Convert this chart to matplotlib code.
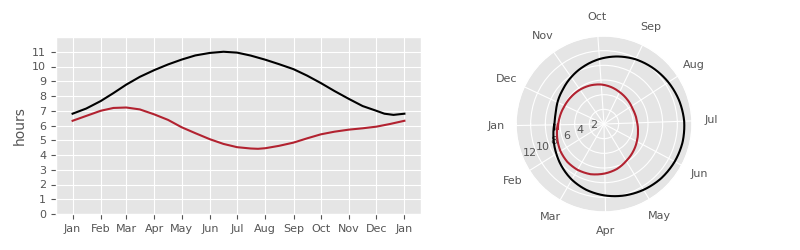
import matplotlib
matplotlib.use("Agg")
import matplotlib.dates as mdates
import matplotlib.pyplot as plt
import numpy as np
import pandas as pd

plt.style.use("ggplot")
plt.rcParams["font.size"] = 8

# sample dates, roughly twice a month
black_dates = pd.to_datetime([
    "2019-01-01", "2019-01-16", "2019-02-01", "2019-02-15", "2019-03-01", "2019-03-16",
    "2019-04-01", "2019-04-16", "2019-05-01", "2019-05-16", "2019-06-01", "2019-06-16",
    "2019-07-01", "2019-07-16", "2019-08-01", "2019-08-16", "2019-09-01", "2019-09-16",
    "2019-10-01", "2019-10-16", "2019-11-01", "2019-11-16", "2019-12-01", "2019-12-10",
    "2019-12-20", "2020-01-01",
])
black_hours = [6.80, 7.15, 7.66, 8.20, 8.77, 9.30,
               9.76, 10.14, 10.47, 10.75, 10.92, 11.00,
               10.94, 10.74, 10.46, 10.16, 9.82, 9.38,
               8.88, 8.34, 7.80, 7.32, 7.00, 6.80,
               6.72, 6.80]

red_dates = pd.to_datetime([
    "2019-01-01", "2019-01-16", "2019-02-01", "2019-02-15", "2019-03-01", "2019-03-16",
    "2019-04-01", "2019-04-16", "2019-05-01", "2019-05-16", "2019-06-01", "2019-06-16",
    "2019-07-01", "2019-07-16", "2019-07-24", "2019-08-01", "2019-08-16", "2019-09-01",
    "2019-09-16", "2019-10-01", "2019-10-16", "2019-11-01", "2019-11-16", "2019-12-01",
    "2019-12-16", "2020-01-01",
])
red_hours = [6.32, 6.65, 7.00, 7.19, 7.22, 7.09,
             6.75, 6.38, 5.88, 5.48, 5.07, 4.75,
             4.53, 4.44, 4.42, 4.46, 4.62, 4.84,
             5.13, 5.40, 5.58, 5.72, 5.81, 5.92,
             6.10, 6.32]

month_names = ["Jan", "Feb", "Mar", "Apr", "May", "Jun",
               "Jul", "Aug", "Sep", "Oct", "Nov", "Dec"]
month_starts = pd.date_range("2019-01-01", periods=12, freq="MS")

black_color = "black"
red_color = "#b22230"


def day_angle(d):
    # angle in radians = day of year in degrees; new year's day closes the loop
    doy = np.array(d.dayofyear, dtype=float)
    doy[-1] = 366.0
    return np.deg2rad(doy)


fig = plt.figure(figsize=(8, 2.5), dpi=100)

ax = fig.add_axes([0.07, 0.144, 0.45625, 0.708])
ax.plot(black_dates, black_hours, color=black_color, lw=1.5)
ax.plot(red_dates, red_hours, color=red_color, lw=1.5)
ax.xaxis.set_major_locator(mdates.MonthLocator())
ax.xaxis.set_major_formatter(mdates.DateFormatter("%b"))
ax.set_ylim(0, 12)
ax.set_yticks(range(12))
ax.set_ylabel("hours", fontsize=10)

pax = fig.add_axes([0.645, 0.152, 0.22, 0.704], projection="polar")
pax.set_theta_offset(np.pi)
for d, h, c in [(black_dates, black_hours, black_color), (red_dates, red_hours, red_color)]:
    (ln,) = pax.plot(day_angle(d), h, color=c, lw=1.5)
    ln.get_path()._interpolation_steps = 16
pax.set_xticks(np.deg2rad(month_starts.dayofyear))
pax.set_xticklabels(month_names)
pax.set_ylim(0, 12)
pax.set_yticks([2, 4, 6, 8, 10, 12])

fig.savefig("out.png", dpi=100)
